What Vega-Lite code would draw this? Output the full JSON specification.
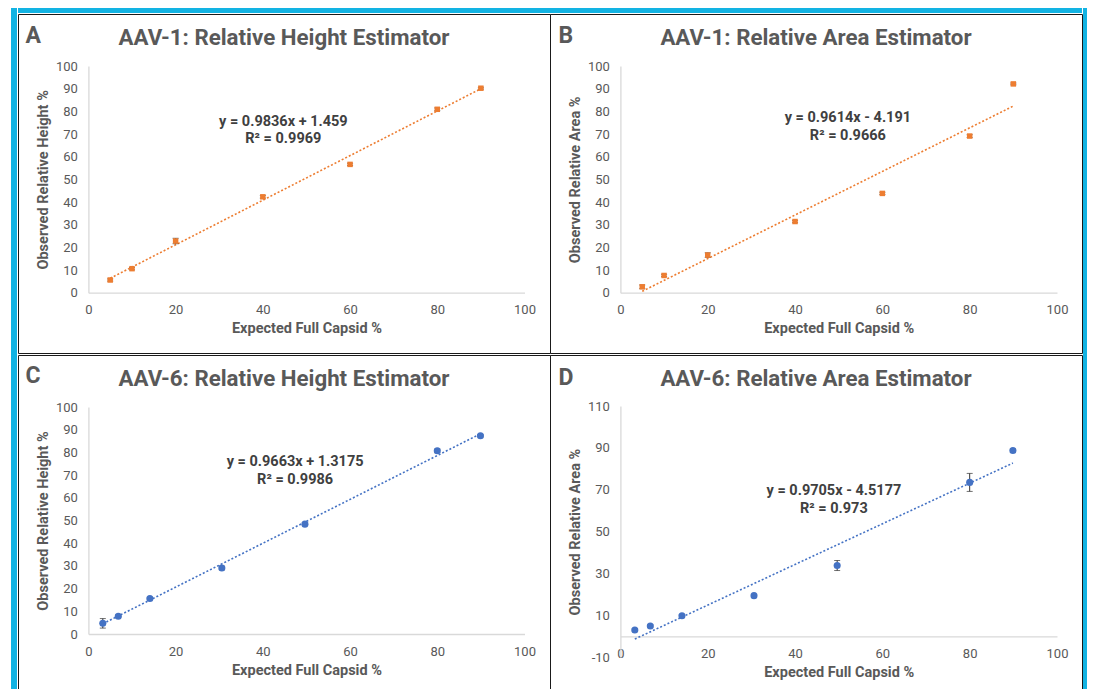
{
  "$schema": "https://vega.github.io/schema/vega-lite/v6.json",
  "background": "white",
  "padding": {"left": 11, "top": 8, "right": 0, "bottom": 0},
  "config": {
    "font": "Roboto",
    "view": {"stroke": "#1a1a1a", "strokeWidth": 1, "fill": "white"},
    "title": {"font": "Roboto", "fontSize": 22.3, "fontWeight": "bold", "color": "#595959", "anchor": "middle", "frame": "group", "baseline": "alphabetic"},
    "axis": {"labelFont": "Roboto", "labelFontSize": 13, "labelColor": "#595959", "titleFont": "Roboto", "titleFontSize": 14.5, "titleFontWeight": "bold", "titleColor": "#595959", "domainColor": "#d9d9d9", "domainWidth": 1.3, "ticks": false, "grid": false, "labelFlush": false, "labelOverlap": false, "labelExpr": "datum.value + ''"},
    "axisX": {"labelPadding": 11, "titlePadding": 5},
    "axisY": {"labelPadding": 11, "titlePadding": 5}
  },
  "datasets": {
    "points": [
      {"panel": "A", "x": 5, "y": 5.6, "lo": 5.1, "hi": 6.1},
      {"panel": "A", "x": 10, "y": 10.6, "lo": 10.1, "hi": 11.1},
      {"panel": "A", "x": 20, "y": 22.8, "lo": 21.6, "hi": 24.0},
      {"panel": "A", "x": 40, "y": 42.3, "lo": 41.7, "hi": 42.9},
      {"panel": "A", "x": 60, "y": 56.6, "lo": 56.1, "hi": 57.1},
      {"panel": "A", "x": 80, "y": 80.9, "lo": 80.3, "hi": 81.5},
      {"panel": "A", "x": 90, "y": 90.2, "lo": 89.8, "hi": 90.6},
      {"panel": "B", "x": 5, "y": 2.6, "lo": 1.8, "hi": 3.4},
      {"panel": "B", "x": 10, "y": 7.6, "lo": 7.1, "hi": 8.1},
      {"panel": "B", "x": 20, "y": 16.6, "lo": 15.6, "hi": 17.6},
      {"panel": "B", "x": 40, "y": 31.4, "lo": 30.9, "hi": 31.9},
      {"panel": "B", "x": 60, "y": 43.8, "lo": 43.3, "hi": 44.3},
      {"panel": "B", "x": 80, "y": 69.1, "lo": 68.5, "hi": 69.7},
      {"panel": "B", "x": 90, "y": 92.1, "lo": 91.7, "hi": 92.5},
      {"panel": "C", "x": 3.3, "y": 4.7, "lo": 2.6, "hi": 6.8},
      {"panel": "C", "x": 6.85, "y": 7.8, "lo": 7.2, "hi": 8.4},
      {"panel": "C", "x": 14.1, "y": 15.6, "lo": 15.1, "hi": 16.1},
      {"panel": "C", "x": 30.6, "y": 29.1, "lo": 28.3, "hi": 29.9},
      {"panel": "C", "x": 49.65, "y": 48.4, "lo": 47.9, "hi": 48.9},
      {"panel": "C", "x": 80, "y": 80.7, "lo": 79.9, "hi": 81.5},
      {"panel": "C", "x": 89.9, "y": 87.3, "lo": 86.8, "hi": 87.8},
      {"panel": "D", "x": 3.3, "y": 3.0, "lo": 2.5, "hi": 3.5},
      {"panel": "D", "x": 6.85, "y": 4.9, "lo": 4.4, "hi": 5.4},
      {"panel": "D", "x": 14.1, "y": 9.8, "lo": 9.2, "hi": 10.4},
      {"panel": "D", "x": 30.6, "y": 19.4, "lo": 18.8, "hi": 20.0},
      {"panel": "D", "x": 49.65, "y": 33.8, "lo": 31.4, "hi": 36.2},
      {"panel": "D", "x": 80, "y": 73.5, "lo": 69.2, "hi": 77.8},
      {"panel": "D", "x": 89.9, "y": 88.7, "lo": 87.9, "hi": 89.5}
    ],
    "trend": [
      {"panel": "A", "x": 5, "y": 6.377},
      {"panel": "A", "x": 90, "y": 89.983},
      {"panel": "B", "x": 5, "y": 0.616},
      {"panel": "B", "x": 90, "y": 82.335},
      {"panel": "C", "x": 3.3, "y": 4.506},
      {"panel": "C", "x": 89.9, "y": 88.188},
      {"panel": "D", "x": 3.3, "y": -1.315},
      {"panel": "D", "x": 89.9, "y": 82.730}
    ],
    "labels": [
      {"panel": "A", "line": "y = 0.9836x + 1.459", "x": 44.7, "y": 73.5},
      {"panel": "A", "line": "R² = 0.9969", "x": 44.7, "y": 65.9},
      {"panel": "B", "line": "y = 0.9614x - 4.191", "x": 52.1, "y": 75.4},
      {"panel": "B", "line": "R² = 0.9666", "x": 52.1, "y": 67.4},
      {"panel": "C", "line": "y = 0.9663x + 1.3175", "x": 47.4, "y": 73.9},
      {"panel": "C", "line": "R² = 0.9986", "x": 47.4, "y": 65.9},
      {"panel": "D", "line": "y = 0.9705x - 4.5177", "x": 48.9, "y": 67.6},
      {"panel": "D", "line": "R² = 0.973", "x": 48.9, "y": 59.1}
    ],
    "letters": [
      {"panel": "A", "letter": "A", "x": -14.4, "y": 110.3},
      {"panel": "B", "letter": "B", "x": -14.2, "y": 110.0},
      {"panel": "C", "letter": "C", "x": -14.4, "y": 110.6},
      {"panel": "D", "letter": "D", "x": -14.2, "y": 120.2}
    ]
  },
  "hconcat": [
    {"width": 6, "height": 684, "view": {"fill": "#12B3E3", "stroke": null}, "data": {"values": []}, "mark": "point", "encoding": {}},
    {
      "vconcat": [
        {"width": 1064, "height": 5, "view": {"fill": "#12B3E3", "stroke": null}, "data": {"values": []}, "mark": "point", "encoding": {}},
        {
          "hconcat": [
            {
              "width": 532, "height": 339,
              "title": {"text": "AAV-1: Relative Height Estimator", "offset": -35},
              "encoding": {
                "x": {"field": "x", "type": "quantitative", "scale": {"domain": [0, 100], "range": [70.4, 506.5], "nice": false, "zero": false}, "axis": {"values": [0, 20, 40, 60, 80, 100], "offset": -60.3, "title": "Expected Full Capsid %"}},
                "y": {"field": "y", "type": "quantitative", "scale": {"domain": [0, 100], "range": [278.7, 52], "nice": false, "zero": false}, "axis": {"values": [0, 10, 20, 30, 40, 50, 60, 70, 80, 90, 100], "offset": -70.4, "title": "Observed Relative Height %"}}
              },
              "layer": [
                {"data": {"name": "trend"}, "transform": [{"filter": "datum.panel === 'A'"}], "mark": {"type": "line", "color": "#ED7D31", "strokeDash": [2, 2], "strokeWidth": 1.6}},
                {"data": {"name": "points"}, "transform": [{"filter": "datum.panel === 'A'"}], "mark": {"type": "rule", "color": "#333333", "strokeWidth": 1}, "encoding": {"y": {"field": "lo", "type": "quantitative"}, "y2": {"field": "hi"}}},
                {"data": {"name": "points"}, "transform": [{"filter": "datum.panel === 'A'"}], "mark": {"type": "tick", "orient": "horizontal", "size": 6, "thickness": 1, "color": "#333333"}, "encoding": {"y": {"field": "lo", "type": "quantitative"}}},
                {"data": {"name": "points"}, "transform": [{"filter": "datum.panel === 'A'"}], "mark": {"type": "tick", "orient": "horizontal", "size": 6, "thickness": 1, "color": "#333333"}, "encoding": {"y": {"field": "hi", "type": "quantitative"}}},
                {"data": {"name": "points"}, "transform": [{"filter": "datum.panel === 'A'"}], "mark": {"type": "point", "shape": "square", "filled": true, "size": 30, "color": "#ED7D31", "opacity": 1}},
                {"data": {"name": "labels"}, "transform": [{"filter": "datum.panel === 'A'"}], "mark": {"type": "text", "font": "Roboto", "fontWeight": "bold", "fontSize": 14.5, "color": "#404040", "align": "center", "baseline": "alphabetic"}, "encoding": {"text": {"field": "line"}}},
                {"data": {"name": "letters"}, "transform": [{"filter": "datum.panel === 'A'"}], "mark": {"type": "text", "font": "Roboto", "fontWeight": "bold", "fontSize": 23, "color": "#595959", "align": "left", "baseline": "alphabetic"}, "encoding": {"text": {"field": "letter"}}}
              ]
            },
            {
              "width": 532, "height": 339,
              "title": {"text": "AAV-1: Relative Area Estimator", "offset": -35},
              "encoding": {
                "x": {"field": "x", "type": "quantitative", "scale": {"domain": [0, 100], "range": [70.4, 507], "nice": false, "zero": false}, "axis": {"values": [0, 20, 40, 60, 80, 100], "offset": -60.3, "title": "Expected Full Capsid %"}},
                "y": {"field": "y", "type": "quantitative", "scale": {"domain": [0, 100], "range": [278.7, 52], "nice": false, "zero": false}, "axis": {"values": [0, 10, 20, 30, 40, 50, 60, 70, 80, 90, 100], "offset": -70.4, "title": "Observed Relative Area %"}}
              },
              "layer": [
                {"data": {"name": "trend"}, "transform": [{"filter": "datum.panel === 'B'"}], "mark": {"type": "line", "color": "#ED7D31", "strokeDash": [2, 2], "strokeWidth": 1.6}},
                {"data": {"name": "points"}, "transform": [{"filter": "datum.panel === 'B'"}], "mark": {"type": "rule", "color": "#333333", "strokeWidth": 1}, "encoding": {"y": {"field": "lo", "type": "quantitative"}, "y2": {"field": "hi"}}},
                {"data": {"name": "points"}, "transform": [{"filter": "datum.panel === 'B'"}], "mark": {"type": "tick", "orient": "horizontal", "size": 6, "thickness": 1, "color": "#333333"}, "encoding": {"y": {"field": "lo", "type": "quantitative"}}},
                {"data": {"name": "points"}, "transform": [{"filter": "datum.panel === 'B'"}], "mark": {"type": "tick", "orient": "horizontal", "size": 6, "thickness": 1, "color": "#333333"}, "encoding": {"y": {"field": "hi", "type": "quantitative"}}},
                {"data": {"name": "points"}, "transform": [{"filter": "datum.panel === 'B'"}], "mark": {"type": "point", "shape": "square", "filled": true, "size": 30, "color": "#ED7D31", "opacity": 1}},
                {"data": {"name": "labels"}, "transform": [{"filter": "datum.panel === 'B'"}], "mark": {"type": "text", "font": "Roboto", "fontWeight": "bold", "fontSize": 14.5, "color": "#404040", "align": "center", "baseline": "alphabetic"}, "encoding": {"text": {"field": "line"}}},
                {"data": {"name": "letters"}, "transform": [{"filter": "datum.panel === 'B'"}], "mark": {"type": "text", "font": "Roboto", "fontWeight": "bold", "fontSize": 23, "color": "#595959", "align": "left", "baseline": "alphabetic"}, "encoding": {"text": {"field": "letter"}}}
              ]
            }
          ],
          "spacing": 0, "bounds": "flush"
        },
        {
          "hconcat": [
            {
              "width": 532, "height": 339,
              "title": {"text": "AAV-6: Relative Height Estimator", "offset": -35},
              "encoding": {
                "x": {"field": "x", "type": "quantitative", "scale": {"domain": [0, 100], "range": [70.4, 506.5], "nice": false, "zero": false}, "axis": {"values": [0, 20, 40, 60, 80, 100], "offset": -60, "title": "Expected Full Capsid %"}},
                "y": {"field": "y", "type": "quantitative", "scale": {"domain": [0, 100], "range": [279, 52], "nice": false, "zero": false}, "axis": {"values": [0, 10, 20, 30, 40, 50, 60, 70, 80, 90, 100], "offset": -70.4, "title": "Observed Relative Height %"}}
              },
              "layer": [
                {"data": {"name": "trend"}, "transform": [{"filter": "datum.panel === 'C'"}], "mark": {"type": "line", "color": "#4472C4", "strokeDash": [2, 2], "strokeWidth": 1.6}},
                {"data": {"name": "points"}, "transform": [{"filter": "datum.panel === 'C'"}], "mark": {"type": "rule", "color": "#333333", "strokeWidth": 1}, "encoding": {"y": {"field": "lo", "type": "quantitative"}, "y2": {"field": "hi"}}},
                {"data": {"name": "points"}, "transform": [{"filter": "datum.panel === 'C'"}], "mark": {"type": "tick", "orient": "horizontal", "size": 6, "thickness": 1, "color": "#333333"}, "encoding": {"y": {"field": "lo", "type": "quantitative"}}},
                {"data": {"name": "points"}, "transform": [{"filter": "datum.panel === 'C'"}], "mark": {"type": "tick", "orient": "horizontal", "size": 6, "thickness": 1, "color": "#333333"}, "encoding": {"y": {"field": "hi", "type": "quantitative"}}},
                {"data": {"name": "points"}, "transform": [{"filter": "datum.panel === 'C'"}], "mark": {"type": "point", "shape": "circle", "filled": true, "size": 50, "color": "#4472C4", "opacity": 1}},
                {"data": {"name": "labels"}, "transform": [{"filter": "datum.panel === 'C'"}], "mark": {"type": "text", "font": "Roboto", "fontWeight": "bold", "fontSize": 14.5, "color": "#404040", "align": "center", "baseline": "alphabetic"}, "encoding": {"text": {"field": "line"}}},
                {"data": {"name": "letters"}, "transform": [{"filter": "datum.panel === 'C'"}], "mark": {"type": "text", "font": "Roboto", "fontWeight": "bold", "fontSize": 23, "color": "#595959", "align": "left", "baseline": "alphabetic"}, "encoding": {"text": {"field": "letter"}}}
              ]
            },
            {
              "width": 532, "height": 339,
              "title": {"text": "AAV-6: Relative Area Estimator", "offset": -35},
              "encoding": {
                "x": {"field": "x", "type": "quantitative", "scale": {"domain": [0, 100], "range": [70.4, 507], "nice": false, "zero": false}, "axis": {"values": [0, 20, 40, 60, 80, 100], "offset": -57.7, "title": "Expected Full Capsid %"}},
                "y": {"field": "y", "type": "quantitative", "scale": {"domain": [-10, 110], "range": [302.2, 51], "nice": false, "zero": false}, "axis": {"values": [-10, 10, 30, 50, 70, 90, 110], "offset": -70.4, "title": "Observed Relative Area %"}}
              },
              "layer": [
                {"data": {"name": "trend"}, "transform": [{"filter": "datum.panel === 'D'"}], "mark": {"type": "line", "color": "#4472C4", "strokeDash": [2, 2], "strokeWidth": 1.6}},
                {"data": {"name": "points"}, "transform": [{"filter": "datum.panel === 'D'"}], "mark": {"type": "rule", "color": "#333333", "strokeWidth": 1}, "encoding": {"y": {"field": "lo", "type": "quantitative"}, "y2": {"field": "hi"}}},
                {"data": {"name": "points"}, "transform": [{"filter": "datum.panel === 'D'"}], "mark": {"type": "tick", "orient": "horizontal", "size": 6, "thickness": 1, "color": "#333333"}, "encoding": {"y": {"field": "lo", "type": "quantitative"}}},
                {"data": {"name": "points"}, "transform": [{"filter": "datum.panel === 'D'"}], "mark": {"type": "tick", "orient": "horizontal", "size": 6, "thickness": 1, "color": "#333333"}, "encoding": {"y": {"field": "hi", "type": "quantitative"}}},
                {"data": {"name": "points"}, "transform": [{"filter": "datum.panel === 'D'"}], "mark": {"type": "point", "shape": "circle", "filled": true, "size": 50, "color": "#4472C4", "opacity": 1}},
                {"data": {"name": "labels"}, "transform": [{"filter": "datum.panel === 'D'"}], "mark": {"type": "text", "font": "Roboto", "fontWeight": "bold", "fontSize": 14.5, "color": "#404040", "align": "center", "baseline": "alphabetic"}, "encoding": {"text": {"field": "line"}}},
                {"data": {"name": "letters"}, "transform": [{"filter": "datum.panel === 'D'"}], "mark": {"type": "text", "font": "Roboto", "fontWeight": "bold", "fontSize": 23, "color": "#595959", "align": "left", "baseline": "alphabetic"}, "encoding": {"text": {"field": "letter"}}}
              ]
            }
          ],
          "spacing": 0, "bounds": "flush"
        }
      ],
      "spacing": 0, "bounds": "full"
    },
    {"width": 4, "height": 684, "view": {"fill": "#12B3E3", "stroke": null}, "data": {"values": []}, "mark": "point", "encoding": {}}
  ],
  "spacing": 0, "bounds": "full"
}
